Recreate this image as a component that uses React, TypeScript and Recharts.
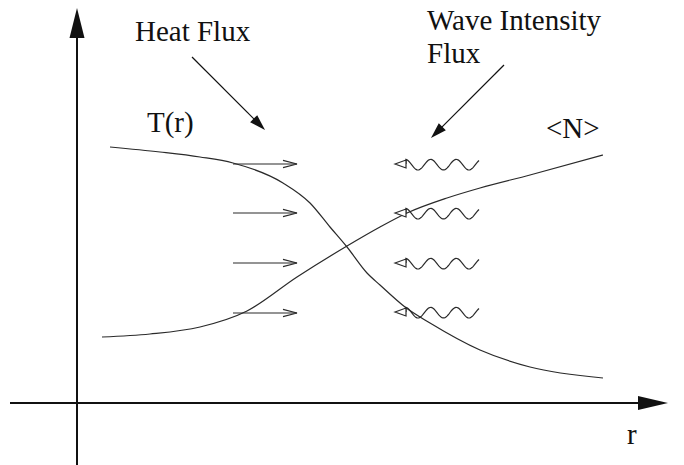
import React from 'react';
import { LineChart, Line, XAxis, YAxis, ReferenceLine, ReferenceDot } from 'recharts';

// Schematic coordinates: r along the horizontal axis, value along the vertical axis (origin at the axes' crossing)
const tProfile = [
  { x: 33, y: 256 }, { x: 83, y: 251 }, { x: 123, y: 246 }, { x: 156, y: 240 },
  { x: 206, y: 220 }, { x: 233, y: 200 }, { x: 253, y: 176 }, { x: 270, y: 156 },
  { x: 290, y: 130 }, { x: 303, y: 118 }, { x: 328, y: 96 }, { x: 353, y: 80 },
  { x: 403, y: 53 }, { x: 453, y: 36 }, { x: 526, y: 25 },
];
const nProfile = [
  { x: 25, y: 66 }, { x: 73, y: 69 }, { x: 123, y: 76 }, { x: 170, y: 92 },
  { x: 220, y: 126 }, { x: 270, y: 157 }, { x: 303, y: 176 }, { x: 330, y: 190 },
  { x: 370, y: 205 }, { x: 403, y: 215 }, { x: 453, y: 228 }, { x: 526, y: 248 },
];
const heatFluxLevels = [239, 190, 140, 90];
const heatFluxSpan = [156, 220];
const waveFluxLevels = [239, 190, 140, 91];
const waveFluxSpan = [402, 318]; // tail -> tip
const rAxisSpan = [-67, 591];
const valueAxisSpan = [-62, 395];
const pointerArrows = [
  { from: { x: 115, y: 346 }, to: { x: 188, y: 273 } },
  { from: { x: 427, y: 338 }, to: { x: 354, y: 265 } },
];
const labelTexts = ['Heat Flux', 'T(r)', 'Wave Intensity', 'Flux', '<N>', 'r'];
const labelX = [58, 70, 350, 350, 469, 550];
const labelY = [362, 271, 373, 340, 265, -41];

const INK = '#111';
const CURVE = '#2a2a2a';

function dir(x1: number, y1: number, x2: number, y2: number) {
  const dx = x2 - x1;
  const dy = y2 - y1;
  const l = Math.hypot(dx, dy) || 1;
  return { ux: dx / l, uy: dy / l, len: l };
}

const filledArrow = (L: number, W: number, sw: number) => (p: any) => {
  const { x1, y1, x2, y2 } = p;
  const { ux, uy } = dir(x1, y1, x2, y2);
  const bx = x2 - ux * L;
  const by = y2 - uy * L;
  const nx = -uy;
  const ny = ux;
  return (
    <g>
      <line x1={x1} y1={y1} x2={bx + ux * 2} y2={by + uy * 2} stroke={INK} strokeWidth={sw} />
      <polygon
        points={`${x2},${y2} ${bx + nx * W},${by + ny * W} ${bx - nx * W},${by - ny * W}`}
        fill={INK}
      />
    </g>
  );
};

const openArrow = (p: any) => {
  const { x1, y1, x2, y2 } = p;
  const { ux, uy } = dir(x1, y1, x2, y2);
  const L = 14;
  const W = 3.6;
  const bx = x2 - ux * L;
  const by = y2 - uy * L;
  const nx = -uy;
  const ny = ux;
  return (
    <g fill="none" stroke={CURVE} strokeWidth={1.2}>
      <line x1={x1} y1={y1} x2={x2} y2={y2} />
      <polyline points={`${bx + nx * W},${by + ny * W} ${x2},${y2} ${bx - nx * W},${by - ny * W}`} />
    </g>
  );
};

const wavyArrow = (p: any) => {
  const { x1, y1, x2, y2 } = p; // x1: tail, x2: tip
  const { ux, uy, len } = dir(x1, y1, x2, y2);
  const head = 11;
  const W = 4;
  const bx = x2 - ux * head;
  const by = y2 - uy * head;
  const nx = -uy;
  const ny = ux;
  const waveLen = len - head;
  const pts: string[] = [`${bx},${by}`];
  for (let s = 0; s <= waveLen; s += 1) {
    const off = 0.7 + 5.3 * Math.sin((2 * Math.PI * (s - 5.6)) / 25.5);
    const px = bx - ux * s;
    const py = by - uy * s + off;
    pts.push(`${px.toFixed(2)},${py.toFixed(2)}`);
  }
  return (
    <g fill="none" stroke={CURVE} strokeWidth={1.2}>
      <polyline points={pts.join(' ')} />
      <polygon points={`${x2},${y2} ${bx + nx * W},${by + ny * W} ${bx - nx * W},${by - ny * W}`} fill="#fff" />
    </g>
  );
};

const textShape = (t: string) => (p: any) => (
  <text
    x={p.cx}
    y={p.cy}
    style={{ fontFamily: '"Liberation Serif", "DejaVu Serif", serif', fontSize: 29 }}
    fill={INK}
  >
    {t}
  </text>
);

export default function App() {
  return (
    <div style={{ position: 'absolute', left: 0, top: 0, background: '#fff' }}>
      <LineChart width={684} height={465} margin={{ top: 0, right: 0, bottom: 0, left: 0 }}>
        <XAxis type="number" dataKey="x" domain={[-77, 607]} hide allowDataOverflow />
        <YAxis type="number" dataKey="y" domain={[-62, 403]} hide allowDataOverflow />

        <ReferenceLine
          segment={[{ x: 0, y: valueAxisSpan[0] }, { x: 0, y: valueAxisSpan[1] }]}
          shape={filledArrow(30, 7.5, 2)}
        />
        <ReferenceLine
          segment={[{ x: rAxisSpan[0], y: 0 }, { x: rAxisSpan[1], y: 0 }]}
          shape={filledArrow(30, 7, 2)}
        />

        <Line
          data={tProfile}
          dataKey="y"
          type="monotone"
          stroke={CURVE}
          strokeWidth={1.2}
          dot={false}
          activeDot={false}
          isAnimationActive={false}
        />
        <Line
          data={nProfile}
          dataKey="y"
          type="monotone"
          stroke={CURVE}
          strokeWidth={1.2}
          dot={false}
          activeDot={false}
          isAnimationActive={false}
        />

        {heatFluxLevels.map((lv, i) => (
          <ReferenceLine
            key={`h${i}`}
            segment={[{ x: heatFluxSpan[0], y: lv }, { x: heatFluxSpan[1], y: lv }]}
            shape={openArrow}
          />
        ))}
        {waveFluxLevels.map((lv, i) => (
          <ReferenceLine
            key={`w${i}`}
            segment={[{ x: waveFluxSpan[0], y: lv }, { x: waveFluxSpan[1], y: lv }]}
            shape={wavyArrow}
          />
        ))}
        {pointerArrows.map((a, i) => (
          <ReferenceLine key={`p${i}`} segment={[a.from, a.to]} shape={filledArrow(16, 5, 1.2)} />
        ))}
        {labelTexts.map((t, i) => (
          <ReferenceDot key={`l${i}`} x={labelX[i]} y={labelY[i]} r={0} shape={textShape(t)} />
        ))}
      </LineChart>
    </div>
  );
}
